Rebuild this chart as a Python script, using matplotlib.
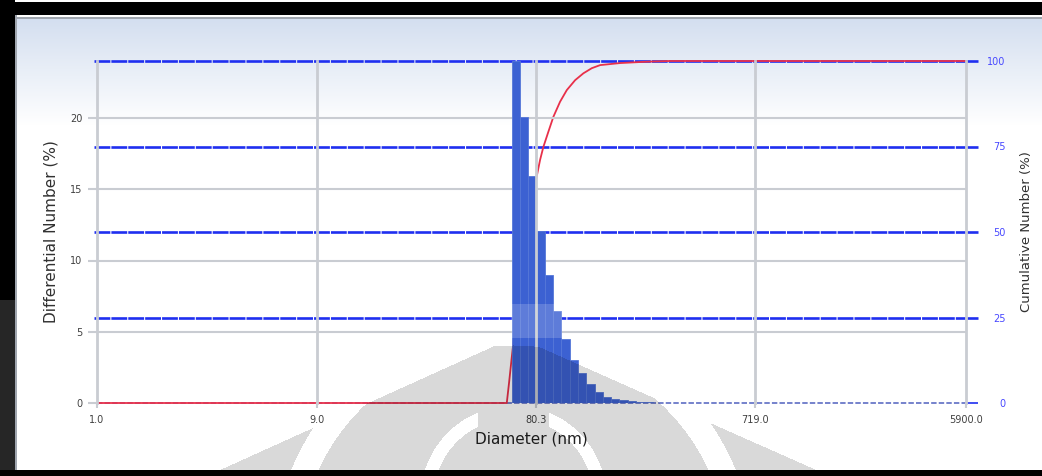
import numpy as np
import matplotlib
matplotlib.use('Agg')
import matplotlib.pyplot as plt
from matplotlib.ticker import NullLocator

# Distribution en nombre (histogramme) - bords des classes en nm
bin_edges = [62.9, 68.4, 74.3, 80.7, 87.7, 95.3, 103.5, 112.5, 122.2, 132.8,
             144.2, 156.7, 170.3, 185.0, 201.0, 218.4, 237.3, 257.8, 280.1]
diff_number = [24.0, 20.1, 15.9, 12.1, 9.0, 6.45, 4.5, 3.0, 2.08, 1.33,
               0.80, 0.45, 0.28, 0.21, 0.14, 0.09, 0.05, 0.03]

# Courbe cumulative
cum_diam = [1.0, 60.0, 61.4, 63.1, 65.9, 68.5, 74.3, 77.3, 81.0, 83.7, 86.5,
            90.9, 95.6, 102.2, 109.3, 118.8, 129.0, 140.3, 152.5, 186.2,
            243.1, 306.9, 5900.0]
cum_number = [0.0, 0.0, 6.0, 13.5, 25.0, 36.0, 52.0, 59.0, 66.4, 71.1, 74.9,
              79.3, 83.7, 88.1, 91.5, 94.4, 96.4, 97.9, 98.8, 99.4,
              99.8, 100.0, 100.0]

x_ticks = [1.0, 9.0, 80.3, 719.0, 5900.0]
x_tick_labels = ['1.0', '9.0', '80.3', '719.0', '5900.0']
left_ticks = [0, 5, 10, 15, 20]
right_ticks = [0, 25, 50, 75, 100]

W, H = 1042, 476
grey = '#c9ccd2'
blue = '#1f2ff0'

fig = plt.figure(figsize=(W / 100, H / 100), dpi=100)
fig.patch.set_facecolor('white')

# fond : cadre noir + degrade bleu clair en haut du panneau
bg = np.ones((H, W, 3))
top_col = np.array([212, 223, 240]) / 255
for row in range(19, 125):
    t = (row - 19) / (125 - 19)
    bg[row, :] = top_col * (1 - t) + t
bg[17:19, 15:] = np.array([160, 166, 175]) / 255
bg[:, 15:17] = np.array([160, 166, 175]) / 255
bg[0:2, :] = 1.0
bg[2:15, :] = 0.0
bg[0:300, 0:15] = 0.0
bg[300:, 0:15] = 0.15
bg[470:, :] = 0.0
ax_bg = fig.add_axes([0, 0, 1, 1], zorder=-10)
ax_bg.imshow(bg, aspect='auto', interpolation='nearest')
ax_bg.axis('off')

# axes principaux
rect = [97 / W, (H - 403) / H, 869 / W, 342 / H]
ax2 = fig.add_axes(rect, zorder=1)
ax = fig.add_axes(rect, zorder=2, sharex=ax2)
ax.patch.set_visible(False)
ax2.patch.set_visible(False)
ax2.xaxis.set_visible(False)
ax2.yaxis.tick_right()
ax2.yaxis.set_label_position('right')

ax2.set_xscale('log')
ax2.set_xlim(1.0, 5900.0)
ax.set_ylim(0, 24)
ax2.set_ylim(0, 100)

# lignes bleues de l'axe cumulatif
for v in right_ticks[1:]:
    ax2.axhline(v, xmin=-0.004, xmax=1.0, color=blue, lw=1.9,
                ls=(0, (6, 0.4)), clip_on=False, zorder=1)
ax2.axhline(0, color='#6a78c8', lw=1.3, ls=(0, (3, 1.2)), clip_on=False, zorder=1)

# courbe cumulative
ax2.plot(cum_diam, cum_number, color='#e8304a', lw=1.3, clip_on=False, zorder=3)

# histogramme
lefts = np.array(bin_edges[:-1])
widths = np.array(bin_edges[1:]) - lefts
ax.bar(lefts, diff_number, width=widths, align='edge', color='#3c61d2',
       edgecolor='#5577d8', linewidth=0.6, zorder=2)

# grille
for v in left_ticks[1:]:
    ax.axhline(v, color=grey, lw=1.5, zorder=1, clip_on=False)
for x in x_ticks:
    ax.axvline(x, color=grey, lw=2.0, zorder=3, clip_on=False)

for a in (ax, ax2):
    for s in a.spines.values():
        s.set_visible(False)

ax.set_xticks(x_ticks, labels=x_tick_labels)
ax.xaxis.set_minor_locator(NullLocator())
ax.tick_params(axis='x', length=3.5, width=1.5, color=grey, labelsize=7,
               labelcolor='#404040', pad=5)
ax.set_yticks(left_ticks)
ax.tick_params(axis='y', length=6.5, width=1.5, color=grey, labelsize=7,
               labelcolor='#404040', pad=4)

ax2.set_yticks(right_ticks)
ax2.yaxis.set_minor_locator(NullLocator())
ax2.tick_params(axis='y', length=8.6, width=1.9, color=blue, labelsize=7,
                labelcolor='#4848ff', pad=20)
for lab in ax2.get_yticklabels():
    lab.set_horizontalalignment('right')
zero_tick = ax2.yaxis.get_major_ticks()[0]
zero_tick.tick2line.set_color('#8a94d0')
zero_tick.tick2line.set_markeredgewidth(1.2)

ax.set_xlabel('Diameter (nm)', fontsize=11, color='#202020', labelpad=5)
ax.set_ylabel('Differential Number (%)', fontsize=11, color='#303030', labelpad=8)
ax2.set_ylabel('Cumulative Number (%)', fontsize=9.5, color='#303030', labelpad=10)

# filigrane gris (logo) par-dessus
yy, xx = np.mgrid[0:H, 0:W]
tri = yy >= 336 + np.where(xx < 515, 0.452 * (515 - xx), 0.444 * (xx - 515))
r1 = np.hypot(xx - 513, yy - 498)
band1 = (r1 > 80) & (r1 < 93) & (np.abs(xx - 513) > 35)
r2 = np.hypot(xx - 513, yy - 560)
band2 = (r2 > 215) & (r2 < 240)
mask = tri & ~band1 & ~band2 & (yy < 470)
wm = np.zeros((H, W, 4))
wm[..., 3] = np.where(mask, 0.15, 0.0)
# bande plus claire sur les barres
light = (yy >= 304) & (yy < 338) & (xx >= 511) & (xx < 562)
wm[light, :3] = 1.0
wm[light, 3] = 0.18
ax_wm = fig.add_axes([0, 0, 1, 1], zorder=10)
ax_wm.imshow(wm, aspect='auto', interpolation='nearest')
ax_wm.axis('off')

fig.savefig('out.png', dpi=100)
